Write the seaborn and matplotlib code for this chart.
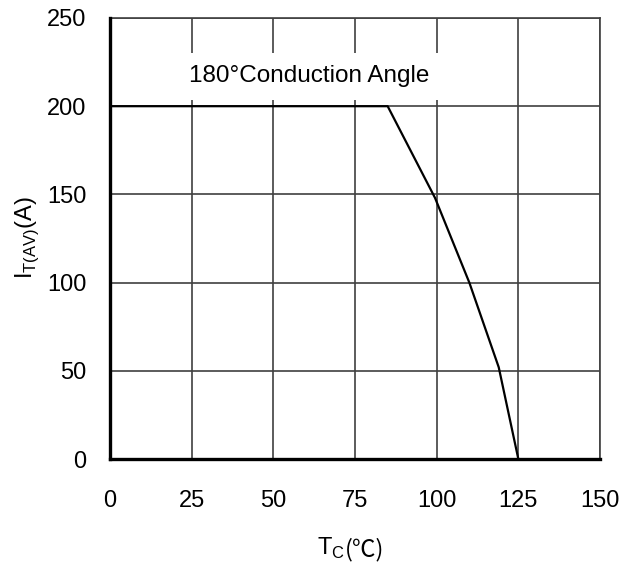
import matplotlib
matplotlib.use("Agg")
import matplotlib.pyplot as plt
import seaborn as sns
import pandas as pd

tc = [0, 85, 99.5, 110, 119, 125]
it_av = [200, 200, 148, 100, 52, 0]
x_ticks = [0, 25, 50, 75, 100, 125, 150]
y_ticks = [0, 50, 100, 150, 200, 250]

sns.set_theme(style="white")
plt.rcParams['font.family'] = ['Liberation Sans', 'DejaVu Sans']
plt.rcParams['mathtext.fontset'] = 'custom'
plt.rcParams['mathtext.rm'] = 'Liberation Sans'
plt.rcParams['text.color'] = 'black'

fig = plt.figure(figsize=(6.22, 5.69), dpi=100)
ax = fig.add_axes([110/622, 1-459/569, 490/622, 441/569])

df = pd.DataFrame({"Tc": tc, "I": it_av})
sns.lineplot(data=df, x="Tc", y="I", ax=ax, color="black", lw=1.6, sort=False, zorder=3)

ax.set_xlim(0, 150)
ax.set_ylim(0, 250)
ax.set_xticks(x_ticks)
ax.set_yticks(y_ticks)
ax.set_xticklabels([str(v) for v in x_ticks])
ax.set_yticklabels([str(v) for v in y_ticks])
ax.tick_params(axis='both', length=0, labelsize=17, colors='black')
ax.tick_params(axis='x', pad=22)
ax.tick_params(axis='y', pad=17)
ax.grid(True, color='#404040', lw=1.2)
for s in ['top', 'right']:
    ax.spines[s].set_color('#404040')
    ax.spines[s].set_linewidth(1.2)
for s in ['left', 'bottom']:
    ax.spines[s].set_color('black')
    ax.spines[s].set_linewidth(2.4)
    ax.spines[s].set_zorder(4)

ax.set_xlabel('')
ax.set_ylabel('')
t1 = fig.text(317/622, 1-555/569, r'T$_\mathregular{C}$', ha='left', va='baseline', fontsize=17)
fig.canvas.draw()
ax.annotate('(℃)', xy=(1, 0), xycoords=t1, xytext=(0, 0), textcoords='offset points',
            ha='left', va='bottom', fontsize=17, family=['Noto Sans CJK SC', 'DejaVu Sans'])
fig.text(27/622, 1-238/569, r'I$_\mathregular{T(AV)}$(A)', ha='center', va='center', rotation=90, fontsize=17)

ax.text(61, 217, '180°Conduction Angle', ha='center', va='center', fontsize=17.5, zorder=5,
        bbox=dict(facecolor='white', edgecolor='none', pad=9))

fig.savefig("out.png", dpi=100)
